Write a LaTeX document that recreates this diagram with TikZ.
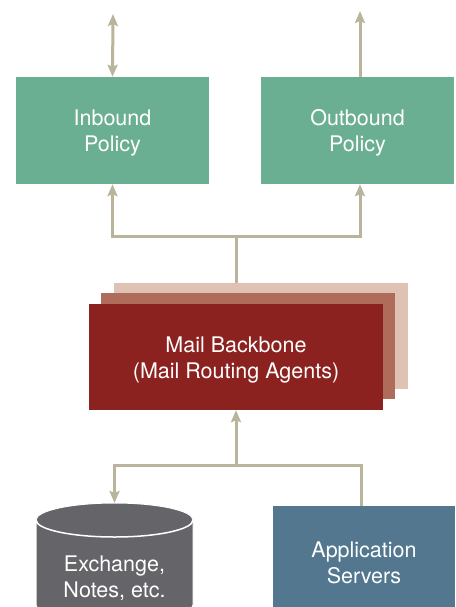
\documentclass[tikz,border=0pt]{standalone}
\usepackage{fontspec}
\setmainfont{TeX Gyre Heros}
\usetikzlibrary{arrows.meta}
\definecolor{policygreen}{HTML}{6BAF92}
\definecolor{mbbred}{HTML}{8C2220}
\definecolor{mbbmid}{HTML}{B06C5A}
\definecolor{mbbback}{HTML}{E0C2B5}
\definecolor{appblue}{HTML}{52778F}
\definecolor{storegray}{HTML}{656469}
\definecolor{linkcol}{HTML}{B9B49B}
\newcommand\lifttext{\rule{0pt}{21pt}}
\begin{document}
\begin{tikzpicture}[x=1pt,y=-1pt,line cap=butt,line join=miter,>={Stealth[length=12pt,width=10pt,inset=2pt]},font=\fontsize{21.5}{26}\selectfont]
		\tikzset{box/.style={inner sep=0pt,text=white,align=center},
			policy/.style={box,fill=policygreen,minimum width=193pt,minimum height=107pt},
			link/.style={draw=linkcol,line width=3pt}}
		\useasboundingbox (0,0) rectangle (455,607);
		\clip (0,0) rectangle (455,607);
		%--------- Policies
		\node[policy] (inb) at (112.5,130.5) {\lifttext Inbound\\Policy};
		\node[policy] (outb) at (357.5,130.5) {\lifttext Outbound\\Policy};
		\coordinate (intop) at (113,14);
		\coordinate (outtop) at (360,11);
		\draw[link,<->] (inb.north) -- (intop);
		\draw[link,->] ([xshift=2.5pt]outb.north) -- (outtop);
		%--------- Mail backbone (stacked)
		\node[box,fill=mbbback,minimum width=294pt,minimum height=106pt] (bk) at (261,336) {};
		\node[box,fill=mbbmid,minimum width=294pt,minimum height=106pt] (md) at (248,346) {};
		\node[box,fill=mbbred,minimum width=294pt,minimum height=106pt] (mbb) at (236,357) {\lifttext Mail Backbone\\(Mail Routing Agents)};
		\coordinate (upjoin) at (236,236);
		\draw[link,->] (upjoin) -| (inb.south);
		\draw[link,->] (upjoin) -| ([xshift=2.5pt]outb.south);
		\draw[link] (upjoin) -- (upjoin |- bk.north);
		%--------- Stores and servers
		\fill[storegray,draw=white,line width=1pt] (36,520) -- (36,605) arc[start angle=180,end angle=0,x radius=78.5,y radius=17]
			-- (193,520) arc[start angle=0,end angle=-180,x radius=78.5,y radius=17] -- cycle;
		\draw[white,line width=1.5pt] (36,520) arc[start angle=180,end angle=0,x radius=78.5,y radius=17];
		\coordinate (exchtop) at (114.5,503);
		\node[box] (exch) at (114.5,576) {\lifttext Exchange,\\Notes, etc.};
		\node[box,fill=appblue,minimum width=182pt,minimum height=114pt] (app) at (364,563) {Application\\Servers};
		\coordinate (lowjoin) at (236,465);
		\draw[link,->] ([xshift=-3pt]app.north) |- (lowjoin) -| (exchtop);
		\draw[link,->] (lowjoin) -- (mbb.south);
	\end{tikzpicture}
\end{document}
